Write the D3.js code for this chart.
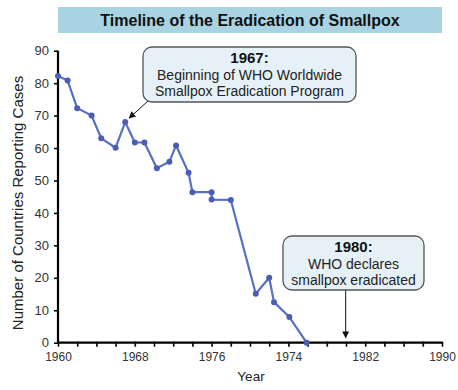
<!DOCTYPE html>
<html><head><meta charset="utf-8">
<script src="https://cdn.jsdelivr.net/npm/d3@7"></script>
<style>
html,body{margin:0;padding:0;background:#fff;}
svg{display:block;font-family:"Liberation Sans",Arial,sans-serif;}
</style></head>
<body><svg id="c" width="458" height="390"></svg>
<script>
const years = [1960,1961,1962,1963.5,1964.5,1966,1967,1968,1969,1970.3,1971.6,1972.3,1973.6,1974,1976,1976,1978,1980.6,1982,1982.5,1984.1,1985.9];
const countries = [82.2,80.8,72.3,70.0,63.0,60.1,68.0,61.7,61.7,53.8,55.8,60.8,52.4,46.4,46.4,44.1,44.0,15.1,20.0,12.5,7.9,0];
const xTickValues = [1960,1968,1976,1984,1992,2000];
const xTickLabels = ["1960","1968","1976","1974","1982","1990"];
const yTickValues = [0,10,20,30,40,50,60,70,80,90];
const titleText = "Timeline of the Eradication of Smallpox";
const note1 = {year:1967, value:68, head:"1967:", lines:["Beginning of WHO Worldwide","Smallpox Eradication Program"]};
const note2 = {year:1990, value:0, head:"1980:", lines:["WHO declares","smallpox eradicated"]};

const svg = d3.select("#c");
const x = d3.scaleLinear().domain([1960,2000]).range([58,442]);
const y = d3.scaleLinear().domain([0,90]).range([342.7,50.7]);

svg.append("defs").append("marker").attr("id","ah").attr("viewBox","0 0 10 10")
  .attr("refX",9).attr("refY",5).attr("markerWidth",7).attr("markerHeight",7)
  .attr("markerUnits","userSpaceOnUse").attr("orient","auto")
  .append("path").attr("d","M0,0 L10,5 L0,10 z").attr("fill","#111");

// title
svg.append("rect").attr("x",58).attr("y",7).attr("width",384).attr("height",26).attr("fill","#a8d3e3");
svg.append("text").attr("x",250).attr("y",26).attr("text-anchor","middle")
  .attr("font-size",16).attr("font-weight","bold").attr("fill","#111").text(titleText);

// axes
const minor = d3.range(1960,2001,2);
const xAxis = d3.axisBottom(x).tickValues(minor).tickSize(4)
  .tickFormat(d => { const i = xTickValues.indexOf(d); return i>=0 ? xTickLabels[i] : ""; });
const gx = svg.append("g").attr("transform",`translate(0,${y(0)})`).call(xAxis);
gx.select(".domain").attr("stroke","#000").attr("stroke-width",2.2).attr("d",`M${x(1960)},0H${x(2000)}`);
gx.selectAll(".tick line").attr("stroke","#000").attr("stroke-width",1.6).attr("y1",-1);
gx.selectAll(".tick text").attr("font-size",12).attr("fill","#333").attr("dy","0.95em")
  .attr("font-family","Liberation Sans, Arial, sans-serif");

const yAxis = d3.axisLeft(y).tickValues(yTickValues).tickSize(4).tickFormat(d3.format("d"));
const gy = svg.append("g").attr("transform",`translate(${x(1960)},0)`).call(yAxis);
gy.select(".domain").attr("stroke","#000").attr("stroke-width",2.2).attr("d",`M0,${y(90)}V${y(0)}`);
gy.selectAll(".tick line").attr("stroke","#000").attr("stroke-width",1.6);
gy.selectAll(".tick text").attr("font-size",13).attr("fill","#333").attr("x",-9)
  .attr("font-family","Liberation Sans, Arial, sans-serif");

svg.append("text").attr("x",251).attr("y",381).attr("text-anchor","middle")
  .attr("font-size",13.5).attr("fill","#222").text("Year");
svg.append("text").attr("transform","translate(23,203) rotate(-90)").attr("text-anchor","middle")
  .attr("font-size",15).attr("fill","#222").text("Number of Countries Reporting Cases");

// line
const pts = years.map((d,i)=>[d,countries[i]]);
svg.append("path").datum(pts).attr("fill","none").attr("stroke","#5670c4").attr("stroke-width",2.2)
  .attr("stroke-linejoin","round")
  .attr("d",d3.line().x(d=>x(d[0])).y(d=>y(d[1])));
svg.selectAll("circle.p").data(pts).join("circle").attr("class","p")
  .attr("cx",d=>x(d[0])).attr("cy",d=>y(d[1])).attr("r",3).attr("fill","#4a5fb3");

// annotations
function note(n, bx, by, bw, bh, lh, arrowFrom, arrowTo, arrowW){
  svg.append("line").attr("x1",arrowFrom[0]).attr("y1",arrowFrom[1])
    .attr("x2",arrowTo[0]).attr("y2",arrowTo[1]).attr("stroke","#111")
    .attr("stroke-width",arrowW).attr("marker-end","url(#ah)");
  svg.append("rect").attr("x",bx).attr("y",by).attr("width",bw).attr("height",bh)
    .attr("rx",9).attr("fill","#e6f1f7").attr("stroke","#555").attr("stroke-width",1.3);
  const cx = bx + bw/2;
  svg.append("text").attr("x",cx).attr("y",by+16).attr("text-anchor","middle")
    .attr("font-size",15).attr("font-weight","bold").attr("fill","#111").text(n.head);
  n.lines.forEach((t,i)=>svg.append("text").attr("x",cx).attr("y",by+16+lh*(i+1))
    .attr("text-anchor","middle").attr("font-size",14).attr("fill","#222").text(t));
}
note(note1, 143, 47, 213, 55, 16.5, [148,101], [x(note1.year)+4, y(note1.value)-4], 1);
note(note2, 283, 236, 141, 54, 16.5, [x(note2.year)-0.3,290], [x(note2.year)-0.3, y(note2.value)-5], 1);
</script></body></html>
